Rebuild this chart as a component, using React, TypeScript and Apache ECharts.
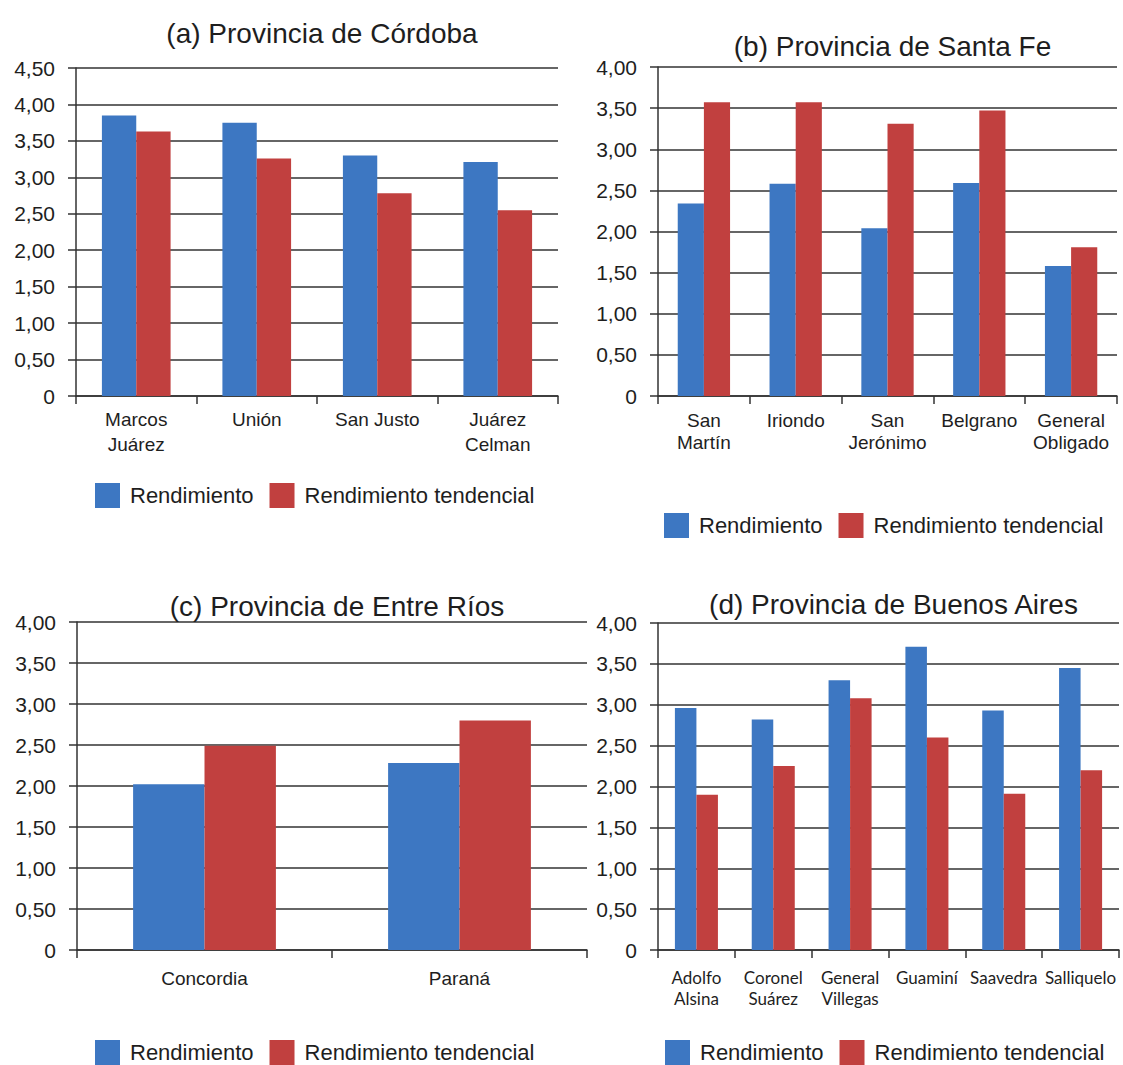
import React, { useEffect, useRef } from "react";
import * as echarts from "echarts";

const seriesNames = ["Rendimiento", "Rendimiento tendencial"];

const titleA = "(a) Provincia de Córdoba";
const titleB = "(b) Provincia de Santa Fe";
const titleC = "(c) Provincia de Entre Ríos";
const titleD = "(d) Provincia de Buenos Aires";

const catA = ["Marcos\nJuárez", "Unión", "San Justo", "Juárez\nCelman"];
const rendA = [3.85, 3.75, 3.3, 3.21];
const tendA = [3.63, 3.26, 2.78, 2.55];

const catB = ["San\nMartín", "Iriondo", "San\nJerónimo", "Belgrano", "General\nObligado"];
const rendB = [2.34, 2.58, 2.04, 2.59, 1.58];
const tendB = [3.57, 3.57, 3.31, 3.47, 1.81];

const catC = ["Concordia", "Paraná"];
const rendC = [2.02, 2.28];
const tendC = [2.49, 2.8];

const catD = ["Adolfo\nAlsina", "Coronel\nSuárez", "General\nVillegas", "Guaminí", "Saavedra", "Salliquelo"];
const rendD = [2.96, 2.82, 3.3, 3.71, 2.93, 3.45];
const tendD = [1.9, 2.25, 3.08, 2.6, 1.91, 2.2];

const yTicksA = ["0", "0,50", "1,00", "1,50", "2,00", "2,50", "3,00", "3,50", "4,00", "4,50"];
const yTicksBCD = ["0", "0,50", "1,00", "1,50", "2,00", "2,50", "3,00", "3,50", "4,00"];

const BLUE = "#3d77c2";
const RED = "#c1403f";
const INK = "#1e1e1e";
const SANS = "Liberation Sans, Arial, sans-serif";

export default function App() {
  const ref = useRef<HTMLDivElement>(null);
  useEffect(() => {
    document.body.style.margin = "0";
    if (!ref.current) return;
    const chart = echarts.init(ref.current, undefined, { renderer: "svg" });

    const panels = [
      {
        title: titleA, ty: 14,
        grid: { left: 76, top: 68, width: 482, height: 328 },
        cats: catA, rend: rendA, tend: tendA, ticks: yTicksA, max: 4.5,
        catFont: 19, catLine: 25, catFamily: SANS, catMargin: 11,
        legend: { left: 95, top: 483 }, gap: "43%",
      },
      {
        title: titleB, ty: 27,
        grid: { left: 658, top: 67, width: 459, height: 329 },
        cats: catB, rend: rendB, tend: tendB, ticks: yTicksBCD, max: 4,
        catFont: 19, catLine: 22, catFamily: SANS, catMargin: 13,
        legend: { left: 664, top: 513 }, gap: "43%",
      },
      {
        title: titleC, ty: 587,
        grid: { left: 77, top: 622, width: 510, height: 328 },
        cats: catC, rend: rendC, tend: tendC, ticks: yTicksBCD, max: 4,
        catFont: 19, catLine: 22, catFamily: SANS, catMargin: 17,
        legend: { left: 95, top: 1040 }, gap: "44%",
      },
      {
        title: titleD, ty: 585,
        grid: { left: 658, top: 623, width: 461, height: 327 },
        cats: catD, rend: rendD, tend: tendD, ticks: yTicksBCD, max: 4,
        catFont: 17, catLine: 21, catFamily: "Lato, Open Sans, sans-serif", catMargin: 17,
        legend: { left: 665, top: 1040 }, gap: "44%",
      },
    ];

    const option: any = {
      animation: false,
      backgroundColor: "#fff",
      title: panels.map((p) => ({
        text: p.title,
        left: p.grid.left + p.grid.width / 2,
        top: p.ty,
        textAlign: "center",
        textStyle: { fontFamily: SANS, fontSize: 28, fontWeight: "normal", color: INK },
      })),
      legend: panels.map((p) => ({
        data: seriesNames,
        left: p.legend.left,
        top: p.legend.top,
        padding: 0,
        icon: "rect",
        itemWidth: 25,
        itemHeight: 25,
        itemGap: 16,
        selectedMode: false,
        textStyle: { fontFamily: SANS, fontSize: 22, color: INK, padding: [0, 0, 0, 5] },
      })),
      grid: panels.map((p) => ({ ...p.grid, containLabel: false })),
      xAxis: panels.map((p, i) => ({
        type: "category",
        gridIndex: i,
        data: p.cats,
        axisLine: { lineStyle: { color: "#333", width: 1.5 } },
        axisTick: { show: true, length: 8, lineStyle: { color: "#333", width: 1.5 } },
        axisLabel: {
          interval: 0,
          margin: p.catMargin,
          fontFamily: p.catFamily,
          fontSize: p.catFont,
          lineHeight: p.catLine,
          color: INK,
        },
      })),
      yAxis: panels.map((p, i) => ({
        type: "value",
        gridIndex: i,
        min: 0,
        max: p.max,
        interval: 0.5,
        axisLine: { show: true, lineStyle: { color: "#333", width: 1.5 } },
        axisTick: { show: true, length: 8, lineStyle: { color: "#333", width: 1.5 } },
        splitLine: { show: true, lineStyle: { color: "#333", width: 1.5 } },
        axisLabel: {
          margin: 21,
          fontFamily: SANS,
          fontSize: 21,
          color: INK,
          formatter: (v: number) => p.ticks[Math.round(v / 0.5)] ?? "",
        },
      })),
      series: panels.flatMap((p, i) => [
        {
          name: seriesNames[0],
          type: "bar",
          xAxisIndex: i,
          yAxisIndex: i,
          data: p.rend,
          barGap: "0%",
          barCategoryGap: p.gap,
          itemStyle: { color: BLUE },
        },
        {
          name: seriesNames[1],
          type: "bar",
          xAxisIndex: i,
          yAxisIndex: i,
          data: p.tend,
          barGap: "0%",
          barCategoryGap: p.gap,
          itemStyle: { color: RED },
        },
      ]),
    };
    chart.setOption(option);
    return () => chart.dispose();
  }, []);
  return <div ref={ref} style={{ width: 1123, height: 1065 }} />;
}
